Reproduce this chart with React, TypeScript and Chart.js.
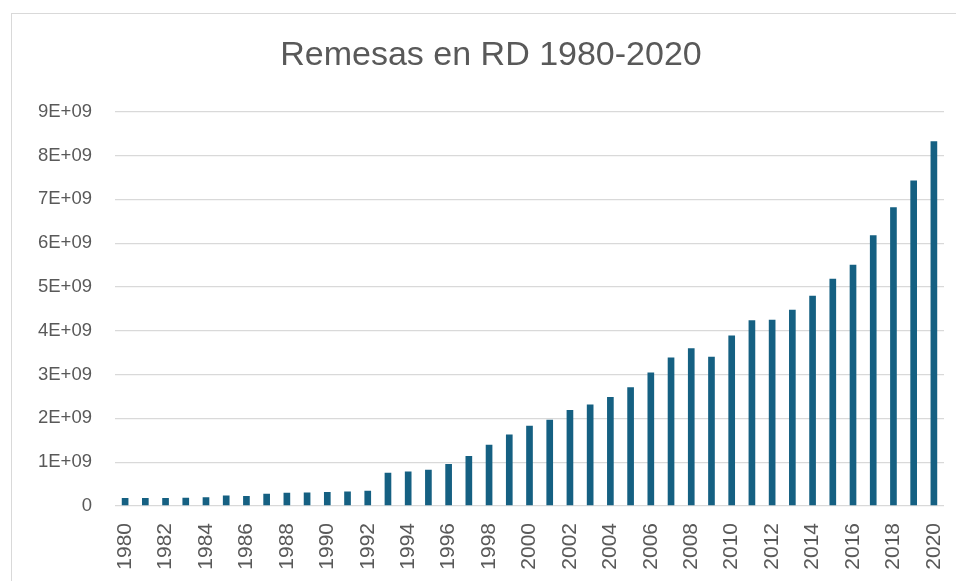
import React, { useEffect, useRef } from "react";
import { Chart, registerables } from "chart.js";

Chart.register(...registerables);

const years: string[] = [
  "1980","1981","1982","1983","1984","1985","1986","1987","1988","1989",
  "1990","1991","1992","1993","1994","1995","1996","1997","1998","1999",
  "2000","2001","2002","2003","2004","2005","2006","2007","2008","2009",
  "2010","2011","2012","2013","2014","2015","2016","2017","2018","2019","2020",
];

// remittances, billions of USD
const remesasMilMillones: number[] = [
  0.18, 0.18, 0.18, 0.19, 0.20, 0.24, 0.23, 0.28, 0.30, 0.31,
  0.32, 0.33, 0.35, 0.76, 0.79, 0.83, 0.96, 1.14, 1.40, 1.63,
  1.83, 1.97, 2.19, 2.32, 2.49, 2.71, 3.05, 3.39, 3.60, 3.41,
  3.89, 4.24, 4.25, 4.48, 4.80, 5.19, 5.51, 6.18, 6.82, 7.43, 8.33,
];

const yTickValues: number[] = [0, 1, 2, 3, 4, 5, 6, 7, 8, 9];

const chartTitle = "Remesas en RD 1980-2020";

export default function App() {
  const canvasRef = useRef<HTMLCanvasElement | null>(null);

  useEffect(() => {
    if (!canvasRef.current) return;
    const chart = new Chart(canvasRef.current, {
      type: "bar",
      data: {
        labels: years,
        datasets: [
          {
            label: "Remesas",
            data: remesasMilMillones.map((v) => v * 1e9),
            backgroundColor: "#156082",
            borderWidth: 0,
            barPercentage: 0.33,
            categoryPercentage: 1,
          },
        ],
      },
      options: {
        animation: false,
        responsive: false,
        maintainAspectRatio: false,
        layout: { padding: { left: 38, right: 12, top: 0, bottom: 0 } },
        plugins: {
          legend: { display: false },
          tooltip: { enabled: false },
          title: {
            display: true,
            text: chartTitle,
            color: "#595959",
            font: { family: "'Liberation Sans', Arial, sans-serif", size: 34, weight: "normal" },
            padding: { top: 35, bottom: 36 },
          },
        },
        scales: {
          x: {
            grid: { display: false, drawTicks: false },
            border: { display: false },
            ticks: {
              autoSkip: false,
              minRotation: 90,
              maxRotation: 90,
              padding: 17,
              color: "#595959",
              font: { family: "'Liberation Sans', Arial, sans-serif", size: 21 },
              callback: (_v: any, idx: number) => (idx % 2 === 0 ? years[idx] : ""),
            },
            afterFit: (scale: any) => {
              scale.height = 76;
              scale.paddingLeft = 0;
              scale.paddingRight = 0;
            },
          },
          y: {
            min: 0,
            max: 9e9,
            afterBuildTicks: (scale: any) => {
              scale.ticks = yTickValues.map((v) => ({ value: v * 1e9 }));
            },
            grid: { color: "#d9d9d9", lineWidth: 1.3, drawTicks: false },
            border: { display: false },
            ticks: {
              padding: 23,
              color: "#595959",
              font: { family: "'Liberation Sans', Arial, sans-serif", size: 18.5 },
              callback: (v: any) => (Number(v) === 0 ? "0" : `${Math.round(Number(v) / 1e9)}E+09`),
            },
            afterFit: (scale: any) => {
              scale.width = 77;
              scale.paddingTop = 0;
              scale.paddingBottom = 0;
            },
          },
        },
      },
    });
    return () => chart.destroy();
  }, []);

  return (
    <div
      style={{
        position: "fixed",
        left: 0,
        top: 0,
        width: 956,
        height: 582,
        overflow: "hidden",
        background: "#ffffff",
      }}
    >
      <div
        style={{
          position: "absolute",
          left: 11,
          top: 13,
          width: 1000,
          height: 567,
          borderLeft: "1px solid #d9d9d9",
          borderTop: "1px solid #d9d9d9",
        }}
      />
      <canvas
        ref={canvasRef}
        width={956}
        height={582}
        style={{ position: "absolute", left: 0, top: 0, width: 956, height: 582 }}
      />
    </div>
  );
}
